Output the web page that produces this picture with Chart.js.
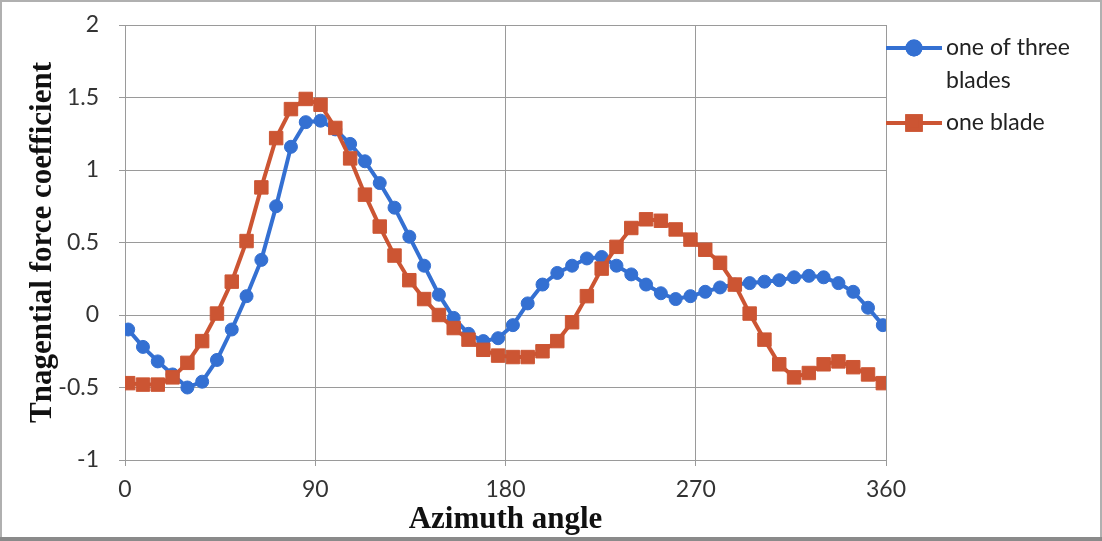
<!DOCTYPE html>
<html>
<head>
<meta charset="utf-8">
<script src="https://cdn.jsdelivr.net/npm/chart.js@4/dist/chart.umd.min.js"></script>
<style>
  html, body { margin: 0; padding: 0; background: #fff; }
  #wrap { position: relative; width: 1102px; height: 541px; }
  canvas { display: block; }
</style>
</head>
<body>
<div id="wrap"><canvas id="c" width="1102" height="541"></canvas></div>
<script>
// ---- data ----
const angles = [1.5, 8.5, 15.5, 22.5, 29.5, 36.5, 43.5, 50.5, 57.5, 64.5, 71.5, 78.5, 85.5, 92.5,
  99.5, 106.5, 113.5, 120.5, 127.5, 134.5, 141.5, 148.5, 155.5, 162.5, 169.5, 176.5, 183.5,
  190.5, 197.5, 204.5, 211.5, 218.5, 225.5, 232.5, 239.5, 246.5, 253.5, 260.5, 267.5, 274.5,
  281.5, 288.5, 295.5, 302.5, 309.5, 316.5, 323.5, 330.5, 337.5, 344.5, 351.5, 358.5];

const oneOfThreeBlades = [-0.10, -0.22, -0.32, -0.41, -0.50, -0.46, -0.31, -0.10, 0.13, 0.38,
  0.75, 1.16, 1.33, 1.34, 1.28, 1.18, 1.06, 0.91, 0.74, 0.54, 0.34, 0.14, -0.02, -0.13, -0.18,
  -0.16, -0.07, 0.08, 0.21, 0.29, 0.34, 0.39, 0.40, 0.34, 0.28, 0.21, 0.15, 0.11, 0.13, 0.16,
  0.19, 0.21, 0.22, 0.23, 0.24, 0.26, 0.27, 0.26, 0.22, 0.16, 0.05, -0.07];

const oneBlade = [-0.47, -0.48, -0.48, -0.43, -0.33, -0.18, 0.01, 0.23, 0.51, 0.88, 1.22,
  1.42, 1.49, 1.45, 1.29, 1.08, 0.83, 0.61, 0.41, 0.24, 0.11, 0.00, -0.09, -0.17, -0.24,
  -0.28, -0.29, -0.29, -0.25, -0.18, -0.05, 0.13, 0.32, 0.47, 0.60, 0.66, 0.65, 0.59, 0.52,
  0.45, 0.36, 0.21, 0.01, -0.17, -0.34, -0.43, -0.40, -0.34, -0.32, -0.36, -0.41, -0.47];

const seriesNames = ['one of three blades', 'one blade'];
const legendLines = [['one of three', 'blades'], ['one blade']];
const xTicks = [0, 90, 180, 270, 360];
const yTicks = [-1, -0.5, 0, 0.5, 1, 1.5, 2];
const xTitle = 'Azimuth angle';
const yTitle = 'Tnagential force coefficient';

// ---- styles ----
const BLUE = '#3470d2';
const RED = '#cc5533';
const GRID = '#9a9a9a';

function toPoints(xs, ys) { return xs.map((x, i) => ({ x: x, y: ys[i] })); }

const frame = {
  id: 'frame',
  beforeDraw(chart) {
    const ctx = chart.ctx;
    ctx.save();
    ctx.fillStyle = '#fff';
    ctx.fillRect(0, 0, chart.width, chart.height);
    ctx.restore();
  },
  afterDraw(chart) {
    const ctx = chart.ctx;
    ctx.save();
    ctx.strokeStyle = '#b0b0b0';
    ctx.lineWidth = 2;
    ctx.strokeRect(1, 1, chart.width - 2, chart.height - 2);
    ctx.fillStyle = '#8a8a8a';
    ctx.fillRect(0, chart.height - 4, chart.width, 4);
    ctx.restore();
  }
};

const sideLegend = {
  id: 'sideLegend',
  afterDraw(chart) {
    const ctx = chart.ctx;
    const area = chart.chartArea;
    const x0 = area.right;
    const lineLen = 56;
    const rows = [48, 123];
    ctx.save();
    chart.data.datasets.forEach((ds, i) => {
      const y = rows[i];
      ctx.strokeStyle = ds.borderColor;
      ctx.lineWidth = ds.borderWidth;
      ctx.beginPath();
      ctx.moveTo(x0, y);
      ctx.lineTo(x0 + lineLen, y);
      ctx.stroke();
      Chart.helpers.drawPoint(ctx, {
        pointStyle: ds.pointStyle, radius: ds.pointRadius, borderWidth: 1, rotation: 0
      }, x0 + lineLen / 2, y);
      ctx.fillStyle = ds.pointBackgroundColor;
      ctx.strokeStyle = ds.pointBorderColor;
      ctx.fill();
      ctx.stroke();
      ctx.fillStyle = '#222';
      ctx.font = '23px Lato';
      ctx.textBaseline = 'middle';
      ctx.textAlign = 'left';
      legendLines[i].forEach((t, k) => ctx.fillText(t, x0 + lineLen + 4, y + k * 33));
    });
    ctx.restore();
  }
};

new Chart(document.getElementById('c'), {
  type: 'line',
  data: {
    datasets: [
      {
        label: seriesNames[0],
        data: toPoints(angles, oneOfThreeBlades),
        borderColor: BLUE, backgroundColor: BLUE,
        pointBackgroundColor: BLUE, pointBorderColor: BLUE,
        borderWidth: 4, pointStyle: 'circle', pointRadius: 6.5, pointBorderWidth: 1,
        tension: 0, order: 2
      },
      {
        label: seriesNames[1],
        data: toPoints(angles, oneBlade),
        borderColor: RED, backgroundColor: RED,
        pointBackgroundColor: RED, pointBorderColor: RED,
        borderWidth: 4, pointStyle: 'rect', pointRadius: 9.5, pointBorderWidth: 1,
        tension: 0, order: 1
      }
    ]
  },
  options: {
    responsive: false,
    animation: false,
    events: [],
    layout: { padding: { left: 0, right: 216, top: 25, bottom: 0 } },
    plugins: { legend: { display: false }, tooltip: { enabled: false } },
    scales: {
      x: {
        type: 'linear', min: 0, max: 360,
        afterBuildTicks(s) { s.ticks = xTicks.map(v => ({ value: v })); },
        afterFit(s) { s.height = 81; s.paddingLeft = 0; s.paddingRight = 0; },
        grid: { color: GRID, lineWidth: 1, tickLength: 6, drawTicks: true },
        border: { color: GRID, width: 1 },
        ticks: { color: '#333', font: { family: 'Lato', size: 23 }, padding: 10, maxRotation: 0,
          callback: v => String(v) },
        title: { display: true, text: xTitle, color: '#111',
          font: { family: 'Liberation Serif', size: 31, weight: 'bold' },
          padding: { top: 0, bottom: 2 } }
      },
      y: {
        type: 'linear', min: -1, max: 2,
        afterBuildTicks(s) { s.ticks = yTicks.map(v => ({ value: v })); },
        afterFit(s) { s.width = 125; s.paddingTop = 0; s.paddingBottom = 0; },
        grid: { color: GRID, lineWidth: 1, tickLength: 6 },
        border: { color: GRID, width: 1 },
        ticks: { color: '#333', font: { family: 'Lato', size: 23 }, padding: 20,
          callback: v => String(v) },
        title: { display: true, text: yTitle, color: '#111',
          font: { family: 'Liberation Serif', size: 31, weight: 'bold' },
          padding: { top: 24, bottom: 0 } }
      }
    }
  },
  plugins: [frame, sideLegend]
});
</script>
</body>
</html>
